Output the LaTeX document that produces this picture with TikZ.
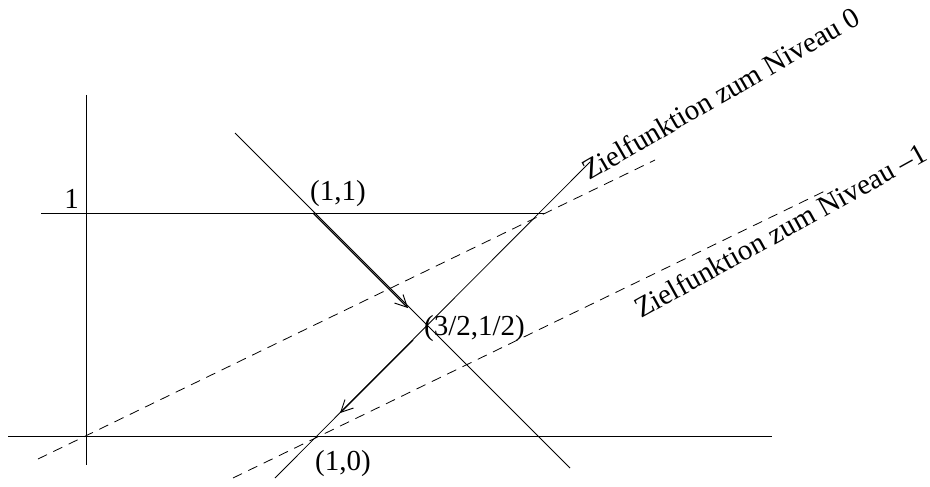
\documentclass[tikz,border=0pt]{standalone}
\usepackage{fontspec}
\setmainfont{Liberation Serif}
\usetikzlibrary{arrows.meta}
\begin{document}
\begin{tikzpicture}[x=1pt,y=-1pt,
  thinline/.style={line width=0.8pt},
  dashline/.style={line width=0.8pt,dash pattern=on 10pt off 7pt},
  arrowline/.style={line width=1.2pt,-{Straight Barb[length=12pt,width=12pt,line width=0.9pt]}},
  lbl/.style={font=\fontsize{29}{33}\selectfont,inner sep=0pt}]
\useasboundingbox (0,0) rectangle (930,487);
% coordinates
\coordinate (vtop) at (86,95);
\coordinate (vbot) at (86,465);
\coordinate (hAl) at (41,213);
\coordinate (hAr) at (545,213);
\coordinate (hBl) at (8,436);
\coordinate (hBr) at (772,436);
\coordinate (dAs) at (235,133);
\coordinate (dAe) at (570,468);
\coordinate (dBs) at (275,478);
\coordinate (dBe) at (590,162);
\coordinate (z0s) at (38,459);
\coordinate (z0e) at (655,160);
\coordinate (z1s) at (233,478);
\coordinate (z1e) at (827,190);
\coordinate (p11) at (313,213);
\coordinate (a1e) at (408,308);
\coordinate (a2s) at (413,340);
\coordinate (a2e) at (340,413);
% lines
\draw[thinline] (vtop) -- (vbot);
\draw[thinline] (hAl) -- (hAr);
\draw[thinline] (hBl) -- (hBr);
\draw[thinline] (dAs) -- (dAe);
\draw[thinline] (dBs) -- (dBe);
\draw[dashline] (z0s) -- (z0e);
\draw[dashline] (z1s) -- (z1e);
\draw[arrowline] (p11) -- (a1e);
\draw[arrowline] (a2s) -- (a2e);
% labels
\node[lbl,anchor=base east] (l1) at (79,208) {1};
\node[lbl,anchor=base] (l11) at (338,200) {(1,1)};
\node[lbl,anchor=base west] (l32) at (424,335) {(3/2,1/2)};
\node[lbl,anchor=base] (l10) at (343,470) {(1,0)};
\node[lbl,anchor=base west,rotate=30] (n0) at (589,181) {Zielfunktion zum Niveau 0};
\node[lbl,anchor=base west,rotate=29] (n1) at (641,319) {Zielfunktion zum Niveau –1};
\end{tikzpicture}
\end{document}
